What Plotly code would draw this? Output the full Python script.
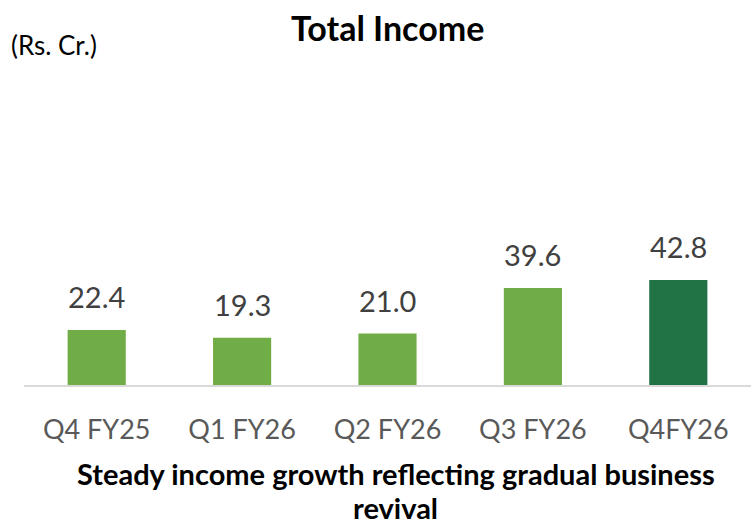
import plotly.graph_objects as go

# Total income by quarter (Rs. Cr.)
quarters = ["Q4 FY25", "Q1 FY26", "Q2 FY26", "Q3 FY26", "Q4FY26"]
income = [22.4, 19.3, 21.0, 39.6, 42.8]
labels = ["22.4", "19.3", "21.0", "39.6", "42.8"]

LIGHT_GREEN = "#70AD47"
DARK_GREEN = "#217346"
GREY_TEXT = "#404040"
FONT = "Lato, Calibri, Arial, sans-serif"

bar_colors = [LIGHT_GREEN] * (len(quarters) - 1) + [DARK_GREEN]

fig = go.Figure(
    go.Bar(
        x=quarters,
        y=income,
        marker=dict(color=bar_colors, line=dict(width=0)),
        showlegend=False,
        hoverinfo="x+y",
    )
)

# value labels above bars
for q, v, t in zip(quarters, income, labels):
    fig.add_annotation(
        x=q, y=v, text=t, showarrow=False,
        yanchor="bottom", yshift=14,
        font=dict(family=FONT, size=29, color=GREY_TEXT),
    )

fig.add_annotation(
    text="<b>Total Income</b>", xref="paper", yref="paper",
    x=0.5, y=1, xanchor="center", yanchor="middle", yshift=33,
    showarrow=False, font=dict(family=FONT, size=34, color="black"),
)
fig.add_annotation(
    text="(Rs. Cr.)", xref="paper", yref="paper",
    x=0, y=1, xanchor="left", yanchor="middle", xshift=-15, yshift=15,
    showarrow=False, font=dict(family=FONT, size=26, color="black"),
)
# footnote, two centred lines kept tight like the original
fig.add_annotation(
    text="<b>Steady income growth reflecting gradual business</b>",
    xref="paper", yref="paper", x=0.5, y=0, xanchor="center", yanchor="middle",
    xshift=8, yshift=-88, showarrow=False,
    font=dict(family=FONT, size=29, color="black"),
)
fig.add_annotation(
    text="<b>revival</b>",
    xref="paper", yref="paper", x=0.5, y=0, xanchor="center", yanchor="middle",
    xshift=8, yshift=-122, height=30, valign="middle", showarrow=False,
    font=dict(family=FONT, size=29, color="black"),
)

fig.update_layout(
    autosize=True,
    paper_bgcolor="white",
    plot_bgcolor="white",
    margin=dict(l=24, r=0, t=60, b=140),
    bargap=0.6,
    font=dict(family=FONT, color=GREY_TEXT),
    xaxis=dict(
        showline=True, linecolor="#D9D9D9", linewidth=2,
        ticks="", ticklabelstandoff=20, automargin=False,
        tickfont=dict(family=FONT, size=27, color="#595959"),
        fixedrange=True,
    ),
    yaxis=dict(
        range=[0, 132.6], visible=False, showgrid=False, zeroline=False,
        fixedrange=True, automargin=False,
    ),
)

fig.write_html(
    "out.html",
    config={"displayModeBar": False},
    post_script="document.body.style.margin='0';",
    default_width="751px",
    default_height="525px",
)
